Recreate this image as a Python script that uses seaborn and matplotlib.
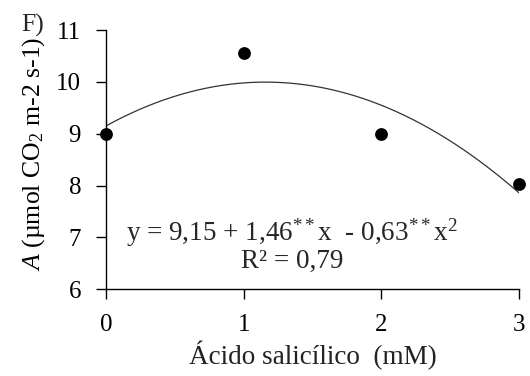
import numpy as np
import pandas as pd
import seaborn as sns
import matplotlib
matplotlib.use("Agg")
import matplotlib.pyplot as plt

# Data
doses = [0, 1, 2, 3]
assim = [9.0, 10.56, 9.0, 8.02]
coef = [9.15, 1.46, -0.63]  # fitted quadratic: y = b0 + b1 x + b2 x^2
eq_text = r"y = 9,15 + 1,46$^{**}$x  - 0,63$^{**}$x$^2$"
r2_text = "R² = 0,79"
xticks = [0, 1, 2, 3]
yticks = [6, 7, 8, 9, 10, 11]

sns.set_theme(style="ticks")
plt.rcParams["font.family"] = ["Liberation Serif", "DejaVu Serif"]
plt.rcParams["mathtext.fontset"] = "custom"
plt.rcParams["mathtext.rm"] = "Liberation Serif"
plt.rcParams["mathtext.it"] = "Liberation Serif:italic"

fig = plt.figure(figsize=(5.30, 3.76), dpi=100)
ax = fig.add_axes([0.2, 0.231, 0.779, 0.689])

xs = np.linspace(doses[0], doses[-1], 200)
curve = pd.DataFrame({"x": xs, "y": coef[0] + coef[1] * xs + coef[2] * xs ** 2})
sns.lineplot(data=curve, x="x", y="y", ax=ax, color="#333333", lw=0.9)
pts = pd.DataFrame({"x": doses, "y": assim})
sns.scatterplot(data=pts, x="x", y="y", ax=ax, color="black", s=85,
                edgecolor="black", linewidth=0, zorder=5, clip_on=False)

ax.set_xlim(0, 3)
ax.set_ylim(6, 11)
ax.set_xticks(xticks)
ax.set_yticks(yticks)
ax.tick_params(axis="both", labelsize=18, length=7, width=1, color="black",
               labelcolor="black", direction="out")
ax.tick_params(axis="y", pad=11)
ax.tick_params(axis="x", pad=11)
for s in ["top", "right"]:
    ax.spines[s].set_visible(False)
for s in ["left", "bottom"]:
    ax.spines[s].set_color("black")
    ax.spines[s].set_linewidth(1)

ax.set_xlabel("Ácido salicílico  (mM)", fontsize=19.5, color="#222222")
ax.xaxis.set_label_coords(0.5, -0.29)
ax.xaxis.label.set_va("baseline")
ax.set_ylabel(r"$\it{A}$ (µmol CO$_2$ m-2 s-1)", fontsize=18.5, color="black")
ax.yaxis.set_label_coords(-0.143, 0.522)

ax.text(0.45, 0.187, eq_text, transform=ax.transAxes, fontsize=19.5, ha="center", va="baseline")
ax.text(0.45, 0.082, r2_text, transform=ax.transAxes, fontsize=19.5, ha="center", va="baseline")
fig.text(0.040, 0.917, "F)", fontsize=18.5, ha="left", va="baseline")

fig.savefig("out.png", dpi=100)
